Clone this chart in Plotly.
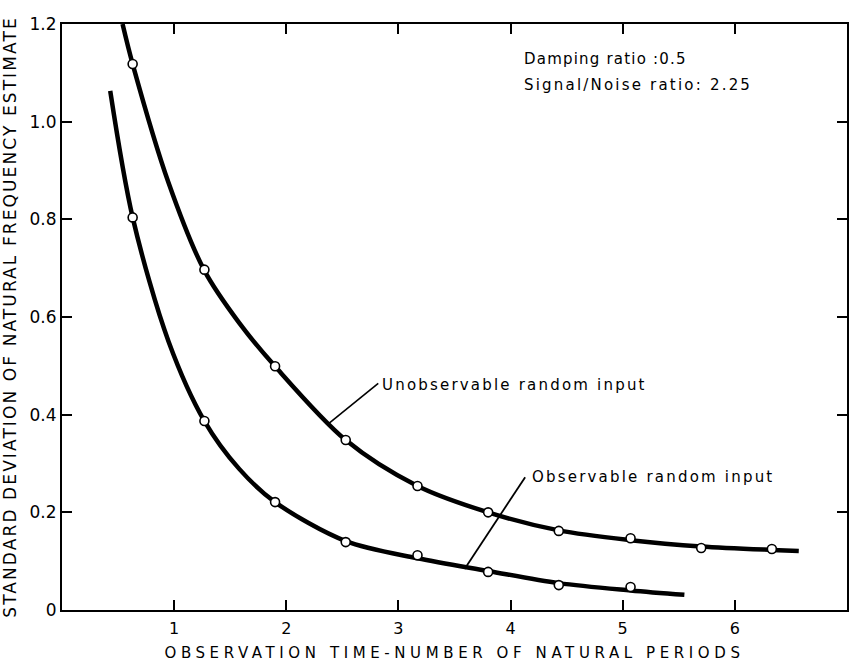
import plotly.graph_objects as go

# ---------------- data ----------------
x_tick_vals = [1, 2, 3, 4, 5, 6, 7]
x_tick_text = ["1", "2", "3", "4", "5", "6", "7"]
y_tick_vals = [0, 0.2, 0.4, 0.6, 0.8, 1.0, 1.2]
y_tick_text = ["0", "0.2", "0.4", "0.6", "0.8", "1.0", "1.2"]

# measured points (open circles)
unobs_pts_x = [0.63, 1.27, 1.90, 2.53, 3.17, 3.80, 4.43, 5.07, 5.70, 6.33]
unobs_pts_y = [1.118, 0.697, 0.499, 0.348, 0.254, 0.200, 0.162, 0.147, 0.127, 0.125]
obs_pts_x = [0.63, 1.27, 1.90, 2.53, 3.17, 3.80, 4.43, 5.07]
obs_pts_y = [0.804, 0.387, 0.221, 0.139, 0.112, 0.078, 0.051, 0.047]

# faired curves
unobs_curve_x = [0.54, 0.63, 0.95, 1.27, 1.58, 1.90, 2.53, 3.17, 3.80, 4.43, 5.07, 5.70, 6.33, 6.57]
unobs_curve_y = [1.200, 1.118, 0.875, 0.695, 0.588, 0.499, 0.348, 0.254, 0.200, 0.163, 0.143, 0.130, 0.123, 0.121]
obs_curve_x = [0.43, 0.63, 0.95, 1.27, 1.58, 1.90, 2.53, 3.17, 3.80, 4.43, 5.07, 5.55]
obs_curve_y = [1.063, 0.804, 0.550, 0.387, 0.289, 0.221, 0.141, 0.106, 0.080, 0.055, 0.040, 0.031]

unobs_label = "Unobservable random input"
obs_label = "Observable random input"
note_lines = ["Damping ratio :0.5", "Signal/Noise ratio: 2.25"]
x_title = "OBSERVATION TIME-NUMBER OF NATURAL PERIODS"
y_title = "STANDARD DEVIATION OF NATURAL FREQUENCY ESTIMATE"

# ---------------- figure ----------------
FONT = "DejaVu Sans"
fig = go.Figure()

for cx, cy in [(unobs_curve_x, unobs_curve_y), (obs_curve_x, obs_curve_y)]:
    fig.add_trace(go.Scatter(
        x=cx, y=cy, mode="lines",
        line=dict(color="black", width=4.5, shape="spline", smoothing=0.9),
        hoverinfo="skip", cliponaxis=True))

for px, py in [(unobs_pts_x, unobs_pts_y), (obs_pts_x, obs_pts_y)]:
    fig.add_trace(go.Scatter(
        x=px, y=py, mode="markers",
        marker=dict(symbol="circle", size=9, color="white",
                    line=dict(color="black", width=1.6))))

# leader lines
fig.add_shape(type="line", x0=2.38, y0=0.382, x1=2.82, y1=0.464,
              line=dict(color="black", width=1.6))
fig.add_shape(type="line", x0=3.59, y0=0.084, x1=4.13, y1=0.272,
              line=dict(color="black", width=1.8))

ann_font = dict(family=FONT, size=15, color="black")
fig.add_annotation(x=2.84, y=0.460, text=unobs_label, showarrow=False,
                   xanchor="left", yanchor="middle", align="left", font=ann_font)
fig.add_annotation(x=4.17, y=0.273, text=obs_label, showarrow=False,
                   xanchor="left", yanchor="middle", align="left", font=ann_font)
fig.add_annotation(x=4.10, y=1.128, text=note_lines[0], showarrow=False,
                   xanchor="left", yanchor="middle", align="left", font=ann_font)
fig.add_annotation(x=4.10, y=1.075, text=note_lines[1], showarrow=False,
                   xanchor="left", yanchor="middle", align="left", font=ann_font)

axis_common = dict(showline=True, linewidth=2, linecolor="black", mirror="ticks",
                   ticks="inside", ticklen=10, tickwidth=1.6, tickcolor="black",
                   showgrid=False, zeroline=False)

fig.update_xaxes(range=[0, 7], tickvals=x_tick_vals, ticktext=x_tick_text,
                 tickfont=dict(family=FONT, size=16, color="black"),
                 ticklabelstandoff=3,
                 title=dict(text=x_title, font=dict(family=FONT, size=15, color="black"),
                            standoff=12),
                 **axis_common)
fig.update_yaxes(range=[0, 1.2], tickvals=y_tick_vals, ticktext=y_tick_text,
                 tickfont=dict(family=FONT, size=17, color="black"),
                 title=dict(text=y_title, font=dict(family=FONT, size=17, color="black")),
                 **axis_common)

fig.update_layout(width=850, height=662,
                  margin=dict(l=62, r=1, t=24, b=51),
                  paper_bgcolor="white", plot_bgcolor="white",
                  showlegend=False,
                  font=dict(family=FONT, color="black"))

css = (".xtitle{letter-spacing:4.6px}"
       ".ytitle{letter-spacing:2.1px}"
       ".annotation-text{letter-spacing:2.2px}"
       ".annotation[data-index=\"2\"] .annotation-text{letter-spacing:1.2px}")
post = ("var s=document.createElement('style');s.textContent='" + css +
        "';document.head.appendChild(s);")

fig.write_html("out.html", post_script=post)
